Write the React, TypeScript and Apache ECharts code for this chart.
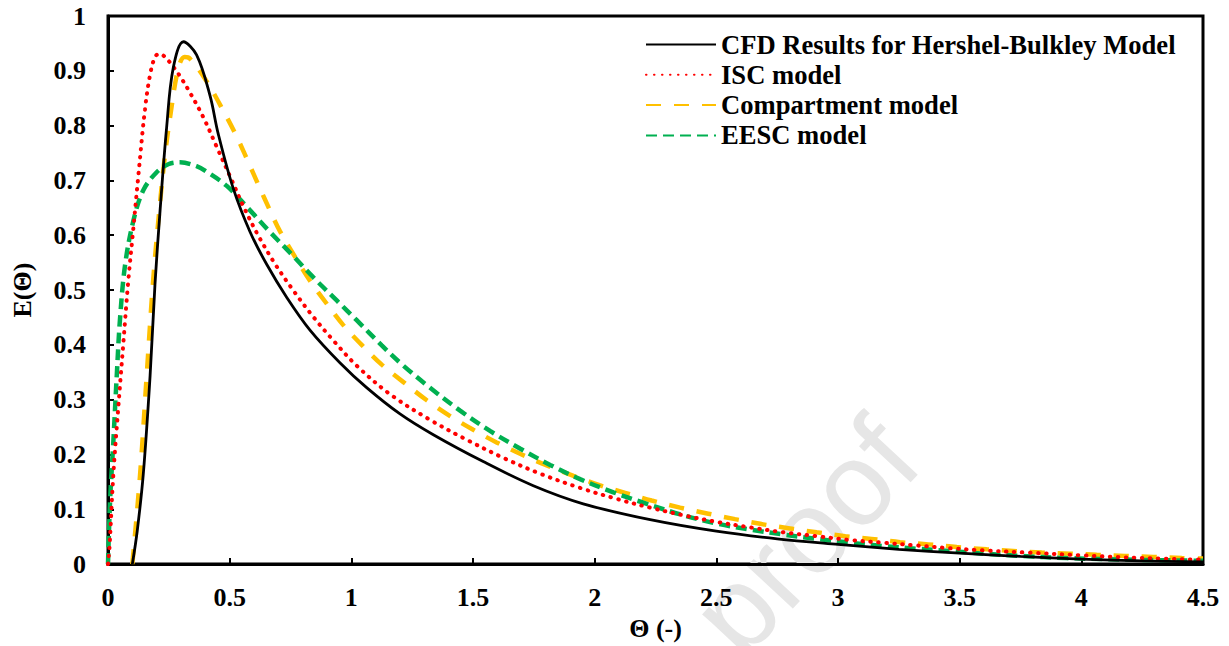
import React, { useEffect, useRef } from "react";
import * as echarts from "echarts";

// ---- data ----
const seriesNames = [
  "CFD Results for Hershel-Bulkley Model",
  "ISC model",
  "Compartment model",
  "EESC model",
];

const cfdData: [number, number][] = [
  [0.1, 0], [0.12, 0.06], [0.145, 0.164], [0.173, 0.344], [0.193, 0.51], [0.214, 0.645],
  [0.241, 0.797], [0.268, 0.905], [0.31, 0.953], [0.364, 0.929], [0.419, 0.855],
  [0.453, 0.785], [0.515, 0.685], [0.584, 0.606], [0.652, 0.547], [0.734, 0.487], [0.83, 0.427],
  [0.954, 0.367], [1.063, 0.322], [1.2, 0.274], [1.337, 0.236], [1.542, 0.187], [1.748, 0.143],
  [1.953, 0.11], [2.228, 0.081], [2.5, 0.06], [2.75, 0.046], [3.0, 0.036], [3.25, 0.027],
  [3.5, 0.02], [3.75, 0.014], [4.0, 0.009], [4.25, 0.006], [4.5, 0.004],
];

const iscData: [number, number][] = [
  [0, 0], [0.006, 0.03], [0.022, 0.164], [0.042, 0.284], [0.063, 0.403], [0.083, 0.515],
  [0.104, 0.612], [0.125, 0.71], [0.152, 0.83], [0.173, 0.893], [0.193, 0.925], [0.21, 0.931],
  [0.227, 0.928], [0.255, 0.915], [0.296, 0.89], [0.337, 0.86], [0.392, 0.815], [0.446, 0.762],
  [0.508, 0.701], [0.556, 0.653], [0.618, 0.599], [0.686, 0.548], [0.762, 0.499], [0.844, 0.451],
  [0.926, 0.408], [1.022, 0.362], [1.159, 0.31], [1.324, 0.263], [1.474, 0.227], [1.624, 0.194],
  [1.776, 0.165], [1.94, 0.139], [2.09, 0.119], [2.228, 0.103], [2.365, 0.089], [2.502, 0.077],
  [2.639, 0.067], [2.775, 0.058], [2.912, 0.051], [3.049, 0.044], [3.186, 0.039], [3.323, 0.034],
  [3.46, 0.029], [3.597, 0.025], [3.78, 0.021], [4.0, 0.016], [4.25, 0.011], [4.5, 0.008],
];

const compartmentData: [number, number][] = [
  [0.1, 0], [0.132, 0.164], [0.159, 0.344], [0.186, 0.52], [0.214, 0.66], [0.234, 0.745],
  [0.255, 0.815], [0.289, 0.905], [0.315, 0.925], [0.337, 0.922], [0.405, 0.881], [0.474, 0.827],
  [0.529, 0.78], [0.57, 0.74], [0.618, 0.692], [0.666, 0.645], [0.707, 0.607], [0.775, 0.556],
  [0.83, 0.517], [0.899, 0.475], [0.967, 0.436], [1.049, 0.397], [1.125, 0.364], [1.214, 0.332],
  [1.31, 0.299], [1.406, 0.27], [1.501, 0.245], [1.597, 0.222], [1.7, 0.2], [1.803, 0.18],
  [1.913, 0.161], [2.02, 0.144], [2.125, 0.13], [2.234, 0.116], [2.351, 0.103], [2.467, 0.092],
  [2.577, 0.082], [2.686, 0.073], [2.803, 0.065], [2.912, 0.058], [3.03, 0.051], [3.138, 0.046],
  [3.255, 0.04], [3.371, 0.036], [3.488, 0.031], [3.611, 0.027], [3.72, 0.024], [3.837, 0.021],
  [3.953, 0.019], [4.063, 0.017], [4.18, 0.015], [4.296, 0.013], [4.413, 0.011], [4.5, 0.01],
];

const eescData: [number, number][] = [
  [0, 0], [0.004, 0.06], [0.01, 0.13], [0.015, 0.17], [0.022, 0.224], [0.036, 0.344],
  [0.049, 0.445], [0.07, 0.545], [0.104, 0.626], [0.145, 0.682], [0.2, 0.715], [0.25, 0.73],
  [0.296, 0.733], [0.364, 0.726], [0.405, 0.716], [0.488, 0.69], [0.57, 0.652], [0.659, 0.609],
  [0.755, 0.565], [0.844, 0.523], [0.94, 0.481], [1.022, 0.445], [1.125, 0.399], [1.214, 0.362],
  [1.317, 0.324], [1.447, 0.28], [1.57, 0.243], [1.693, 0.211], [1.817, 0.181], [1.94, 0.155],
  [2.077, 0.131], [2.2, 0.112], [2.365, 0.089], [2.502, 0.074], [2.639, 0.063], [2.775, 0.054],
  [2.912, 0.046], [3.049, 0.039], [3.186, 0.033], [3.323, 0.028], [3.46, 0.024], [3.597, 0.019],
  [3.75, 0.015], [3.94, 0.011], [4.21, 0.008], [4.5, 0.006],
];

const xTicks = { min: 0, max: 4.5, interval: 0.5 };
const yTicks = { min: 0, max: 1, interval: 0.1 };

const FONT = "'Liberation Serif', 'Times New Roman', serif";

export default function App() {
  const ref = useRef<HTMLDivElement>(null);

  useEffect(() => {
    document.body.style.margin = "0";
    if (!ref.current) return;
    const chart = echarts.init(ref.current, undefined, { renderer: "svg" });

    const fmt = (v: number) => String(Math.round(v * 10) / 10);

    const lineSeries = (name: string, data: [number, number][], color: string, lineStyle: any, z: number) => ({
      name,
      type: "line",
      data,
      showSymbol: false,
      symbol: "none",
      smooth: 0.35,
      z,
      lineStyle: { color, ...lineStyle },
      itemStyle: { color },
    });

    const option: any = {
      animation: false,
      backgroundColor: "#ffffff",
      textStyle: { fontFamily: FONT },
      graphic: [
        {
          type: "text",
          x: 896,
          y: 438,
          rotation: (47 * Math.PI) / 180,
          z: 0,
          silent: true,
          style: {
            text: "proof",
            fill: "#e6e6e6",
            font: "118px 'Liberation Sans', Arial, sans-serif",
            align: "right",
            verticalAlign: "middle",
          },
        },
      ],
      grid: {
        left: 108,
        right: 26,
        top: 16,
        bottom: 71,
        show: true,
        borderColor: "#000",
        borderWidth: 3,
        backgroundColor: "transparent",
      },
      legend: {
        orient: "vertical",
        left: 645,
        top: 31,
        padding: 0,
        itemWidth: 70,
        itemHeight: 14,
        itemGap: 3.3,
        itemStyle: { opacity: 0 },
        textStyle: {
          fontFamily: FONT,
          fontWeight: "bold",
          fontSize: 26.6,
          color: "#000",
        },
        data: seriesNames,
      },
      xAxis: {
        type: "value",
        min: xTicks.min,
        max: xTicks.max,
        interval: xTicks.interval,
        name: "Θ (-)",
        nameLocation: "middle",
        nameGap: 37,
        nameTextStyle: { fontFamily: FONT, fontWeight: "bold", fontSize: 26, color: "#000" },
        axisLine: { show: true, lineStyle: { color: "#000", width: 3 } },
        axisTick: { show: true, inside: true, length: 6, lineStyle: { color: "#000", width: 2 } },
        axisLabel: {
          margin: 20,
          fontFamily: FONT,
          fontWeight: "bold",
          fontSize: 26,
          color: "#000",
          formatter: fmt,
        },
        splitLine: { show: false },
      },
      yAxis: {
        type: "value",
        min: yTicks.min,
        max: yTicks.max,
        interval: yTicks.interval,
        name: "E(Θ)",
        nameLocation: "middle",
        nameGap: 73,
        nameTextStyle: { fontFamily: FONT, fontWeight: "bold", fontSize: 26, color: "#000" },
        axisLine: { show: true, lineStyle: { color: "#000", width: 3 } },
        axisTick: { show: true, inside: true, length: 6, lineStyle: { color: "#000", width: 2 } },
        axisLabel: {
          margin: 22,
          fontFamily: FONT,
          fontWeight: "bold",
          fontSize: 26,
          color: "#000",
          formatter: fmt,
        },
        splitLine: { show: false },
      },
      series: [
        lineSeries(seriesNames[0], cfdData, "#000000", { width: 2.8, type: "solid" }, 5),
        lineSeries(seriesNames[1], iscData, "#FF0000", { width: 4, type: [0.5, 7.5], cap: "round" }, 4),
        lineSeries(seriesNames[2], compartmentData, "#FFC000", { width: 4.5, type: [15, 13] }, 3),
        lineSeries(seriesNames[3], eescData, "#00B050", { width: 4.5, type: [11, 6] }, 3),
      ],
    };

    chart.setOption(option);
    return () => chart.dispose();
  }, []);

  return <div ref={ref} style={{ width: 1229, height: 646 }} />;
}
